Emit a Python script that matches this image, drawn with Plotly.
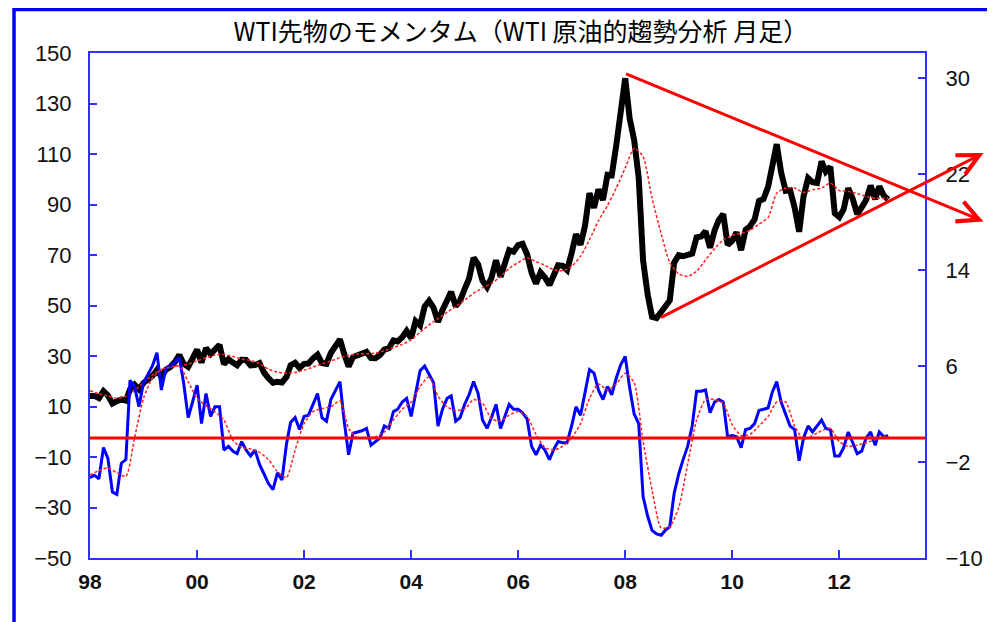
import pandas as pd
import plotly.graph_objects as go

# monthly points, first one is the category labelled "98"
months = pd.date_range("1998-06-01", periods=180, freq="MS")

# WTI front month (left axis)
price = [
    14.2, 14.2, 13.3, 16.1, 14.4, 11.2, 12.1, 12.8, 12.3, 16.8, 18.7, 16.8,
    19.3, 20.5, 22.1, 24.5, 21.8, 24.6, 25.6, 27.6, 30.4, 26.9, 25.7, 29.0,
    32.5, 27.4, 33.1, 30.8, 32.7, 34.4, 26.8, 28.7, 27.4, 26.3, 28.5, 28.4,
    26.3, 26.4, 27.2, 23.4, 21.2, 19.4, 19.8, 19.5, 21.7, 26.3, 27.3, 25.3,
    26.9, 27.0, 29.0, 30.5, 27.2, 26.9, 31.2, 33.5, 36.6, 31.0, 25.8, 29.6,
    30.2, 30.5, 31.6, 29.2, 29.1, 30.4, 32.5, 33.1, 36.2, 35.8, 37.4, 39.9,
    37.1, 43.8, 42.1, 49.6, 51.8, 49.1, 43.5, 48.2, 51.8, 55.4, 49.7, 52.0,
    56.5, 60.6, 68.9, 66.2, 59.8, 57.3, 61.0, 67.9, 61.4, 66.6, 71.9, 71.3,
    73.9, 74.4, 70.3, 62.9, 58.7, 63.1, 61.1, 58.1, 61.8, 65.9, 65.7, 64.0,
    70.7, 78.2, 74.0, 81.7, 94.5, 88.7, 96.0, 91.8, 101.8, 101.6, 113.5, 127.4,
    140.0, 124.1, 115.5, 100.6, 67.8, 54.4, 45.5, 45.0, 47.5, 50.0, 52.0, 67.0,
    69.9, 69.5, 70.0, 70.6, 77.0, 77.3, 79.4, 72.9, 79.7, 83.8, 86.2, 74.0,
    75.6, 79.0, 71.9, 80.0, 81.4, 84.1, 91.4, 92.2, 97.0, 106.7, 113.9, 102.7,
    95.4, 95.7, 88.8, 79.2, 93.2, 100.4, 98.8, 98.5, 107.1, 103.0, 104.9, 86.5,
    85.0, 88.1, 96.5, 92.2, 86.2, 88.9, 91.8, 97.5, 92.1, 97.2, 93.5, 92.0,
]

# momentum (right axis)
momentum = [
    -3.3, -3.1, -3.4, -0.8, -1.7, -4.5, -4.7, -2.1, -1.8, 4.8, 4.3, 2.6,
    4.6, 5.3, 6.0, 7.1, 4.0, 5.8, 6.0, 6.3, 6.7, 4.6, 1.7, 3.0,
    4.4, 1.2, 3.7, 1.8, 2.6, 2.6, -1.0, -0.7, -1.1, -1.3, -0.3, -1.0,
    -1.5, -1.0, -2.2, -3.0, -3.8, -4.3, -2.9, -3.5, -0.5, 1.3, 1.7, 0.7,
    1.8, 1.9, 2.8, 3.7, 1.7, 1.4, 3.2, 4.0, 4.7, 1.5, -1.4, 0.4,
    0.5, 0.6, 0.8, -0.6, -0.3, 0.0, 1.0, 0.8, 2.2, 2.4, 3.0, 3.3,
    1.8, 3.7, 5.6, 6.0, 5.3, 4.6, 1.0, 2.4, 3.3, 3.5, 1.4, 1.7,
    2.8, 3.6, 4.7, 3.7, 1.5, 0.8, 1.7, 2.8, 0.8, 1.7, 2.8, 2.4,
    2.4, 2.1, 1.6, -0.7, -1.4, -0.6, -1.0, -1.8, -0.9, -0.3, -0.4, -0.4,
    1.0, 2.6, 1.9, 3.8, 5.7, 5.4, 4.0, 3.2, 4.3, 3.6, 5.0, 6.1,
    6.8, 4.2, 2.0, 1.2, -4.9, -6.5, -7.7, -8.0, -8.1, -7.7, -7.4, -4.6,
    -3.0, -1.8, -0.7, 1.0, 3.9, 3.9, 4.0, 2.1, 3.0, 3.2, 3.0, 0.1,
    0.2, 0.1, -0.8, 0.7, 0.8, 1.2, 2.3, 2.4, 2.5, 3.8, 4.7, 3.0,
    2.0, 1.0, 0.7, -1.9, 0.0, 1.0, 0.5, 1.0, 1.5, 0.8, 0.7, -1.5,
    -1.5, -0.8, 0.5, -0.4, -1.3, -1.1, 0.0, 0.5, -0.6, 0.5, 0.1, 0.2,
]

# moving averages, read every second month (plus the last month)
price_ma = [
    16.3, 15.0, 14.2, 13.3, 14.0, 16.3, 19.5, 22.5, 24.6, 25.6,
    26.2, 26.8, 28.1, 29.3, 30.4, 30.6, 29.8, 28.8, 28.2, 27.0,
    24.8, 23.6, 23.2, 23.5, 24.4, 25.6, 26.9, 28.0, 29.4, 30.2,
    30.8, 30.9, 31.1, 32.1, 33.3, 34.6, 36.4, 39.4, 42.3, 44.8,
    47.3, 49.6, 52.2, 54.8, 57.0, 58.7, 61.5, 64.7, 67.0, 68.8,
    67.4, 65.9, 64.1, 63.8, 65.5, 69.5, 76.0, 83.5, 89.6, 96.5,
    104.5, 112.3, 109.0, 92.5, 78.5, 67.0, 62.5, 61.5, 63.5, 68.0,
    72.5, 76.0, 77.8, 78.6, 79.8, 82.2, 84.8, 94.5, 96.5, 96.5,
    94.8, 95.8, 96.5, 98.5, 95.5, 95.2, 94.3, 93.2, 92.5, 92.5,
    92.6,
]
momentum_ma = [
    -3.1, -2.7, -2.5, -2.9, -3.2, 0.0, 3.3, 5.0, 5.7, 5.9,
    6.0, 4.7, 3.3, 2.7, 2.2, 1.5, -0.2, -0.8, -0.9, -1.2,
    -1.8, -2.8, -3.3, -1.0, 1.2, 2.2, 2.45, 2.6, 3.1, 0.8,
    0.0, 0.0, 0.1, 0.5, 1.5, 2.4, 3.0, 4.3, 5.1, 3.5,
    2.6, 2.3, 2.4, 3.2, 2.9, 1.6, 1.4, 1.9, 2.2, 1.8,
    0.3, -0.8, -1.0, -0.7, 0.0, 1.2, 3.3, 4.5, 4.0, 4.5,
    5.4, 4.6, -0.3, -4.3, -7.5, -7.4, -5.8, -2.2, 1.5, 3.2,
    3.2, 2.9, 1.1, 0.2, 0.3, 1.0, 1.8, 3.0, 3.0, 1.0,
    -0.1, 0.2, 0.6, 0.8, -0.3, -0.7, -0.6, -0.4, -0.15, 0.1,
    0.13,
]
ma_dates = list(months[::2]) + [months[-1]]

# hand drawn triangle (start point -> arrow tip), left axis units
upper_line = (("2008-05-28", 142.0), ("2015-02-10", 83.3))
lower_line = (("2009-01-22", 45.0), ("2015-02-10", 110.4))

AXIS_BLUE = "#3030FF"
TICK_FONT = dict(family="Liberation Sans, Arial", size=22, color="#111111")

fig = go.Figure()
fig.add_trace(go.Scatter(x=months, y=price, mode="lines",
                         line=dict(color="black", width=6)))
fig.add_trace(go.Scatter(x=ma_dates, y=price_ma, mode="lines",
                         line=dict(color="#FF2020", width=1.5, dash="3px,2px",
                                   shape="spline", smoothing=0.6)))
fig.add_trace(go.Scatter(x=months, y=momentum, mode="lines", yaxis="y2",
                         line=dict(color="#0000FF", width=3)))
fig.add_trace(go.Scatter(x=ma_dates, y=momentum_ma, mode="lines", yaxis="y2",
                         line=dict(color="#FF2020", width=1.5, dash="3px,2px",
                                   shape="spline", smoothing=0.6)))

# zero line of the momentum
fig.add_shape(type="line", xref="paper", x0=0, x1=1, yref="y2", y0=0, y1=0,
              line=dict(color="#FF0000", width=3))

# outer frame of the picture
fig.add_shape(type="rect", xref="paper", yref="paper",
              x0=-0.091, x1=1.2, y0=-0.3, y1=1.086,
              line=dict(color="#0000FF", width=3.5))

for (x0, y0), (x1, y1) in (upper_line, lower_line):
    fig.add_annotation(x=x1, y=y1, ax=x0, ay=y0, xref="x", yref="y",
                       axref="x", ayref="y", text="", showarrow=True,
                       arrowhead=5, arrowsize=1.4, arrowwidth=3,
                       arrowcolor="#FF0000", standoff=0)

# the page body keeps an 8px margin, so the figure is 8px short of the window
fig.update_layout(
    width=987, height=614,
    margin=dict(l=82, r=64, t=45, b=64),
    paper_bgcolor="white", plot_bgcolor="white",
    showlegend=False,
    title=dict(text="WTI先物のモメンタム（WTI 原油的趨勢分析 月足）",
               x=0.516, xref="paper", xanchor="center",
               y=0.961, yanchor="middle",
               font=dict(family="Noto Sans CJK JP", size=25, color="black")),
    xaxis=dict(type="date", range=["1998-06-01", "2014-01-07"],
               tick0="1998-06-01", dtick="M24", tickformat="%y",
               ticks="inside", ticklen=8, tickwidth=2, tickcolor=AXIS_BLUE,
               showline=True, linecolor=AXIS_BLUE, linewidth=2, mirror=True,
               showgrid=False, zeroline=False, ticklabelstandoff=4,
               tickfont=dict(family="Liberation Sans, Arial", size=21,
                             color="#111111", weight="bold")),
    yaxis=dict(range=[-50, 150], dtick=20, tick0=-50,
               ticks="inside", ticklen=7, tickwidth=2, tickcolor=AXIS_BLUE,
               showline=True, linecolor=AXIS_BLUE, linewidth=2,
               showgrid=False, zeroline=False, ticklabelstandoff=12,
               tickfont=TICK_FONT),
    yaxis2=dict(range=[-10, 32.08], dtick=8, tick0=-10, overlaying="y",
                side="right", ticks="inside", ticklen=7, tickwidth=2,
                tickcolor=AXIS_BLUE, showline=True, linecolor=AXIS_BLUE,
                linewidth=2, showgrid=False, zeroline=False,
                ticklabelstandoff=14, tickfont=TICK_FONT),
)

fig.write_html("out.html")
